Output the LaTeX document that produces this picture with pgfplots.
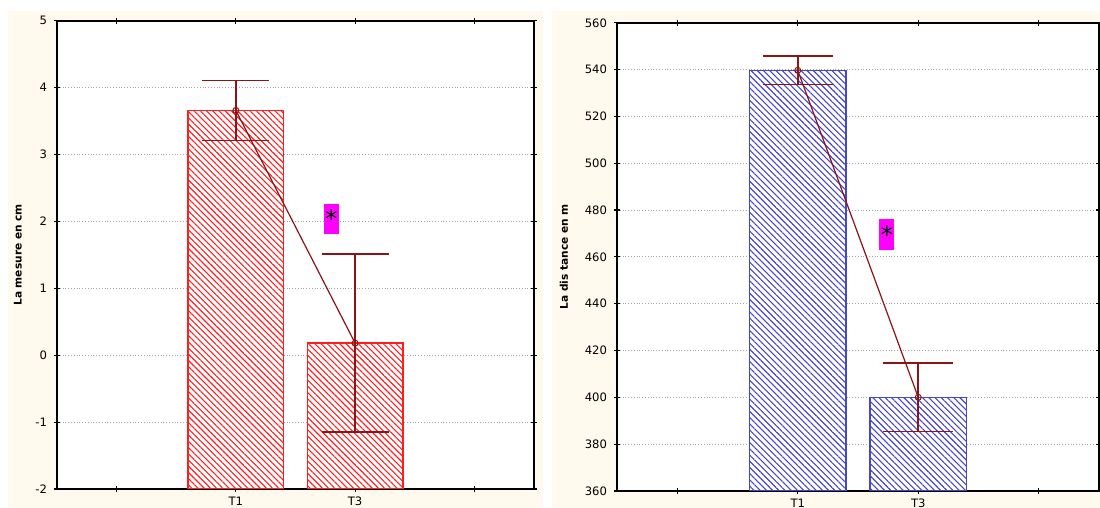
\documentclass[border=0pt]{standalone}
\usepackage{fontspec}
\setmainfont{DejaVu Sans}
\usepackage{pgfplots}
\pgfplotsset{compat=1.18}
\usetikzlibrary{patterns.meta}
\definecolor{cream}{RGB}{255,249,238}
\definecolor{darkred}{RGB}{140,20,20}
\definecolor{barred}{RGB}{255,30,30}
\definecolor{barblue}{RGB}{70,70,200}
\definecolor{starbg}{RGB}{255,0,255}
\pgfplotsset{mystyle/.style={
  scale only axis,
  axis background/.style={fill=white},
  xmin=0.5, xmax=4.5,
  xtick={1,2,3,4}, xticklabels={,T1,T3,},
  ymajorgrids,
  grid style={densely dotted, gray!70, line width=0.5pt},
  axis line style={line width=1pt},
  tick style={black, line width=0.6pt},
  major tick length=3pt,
  tick align=center,
  tick label style={font=\fontsize{5.8}{6}\selectfont},
  xticklabel style={yshift=1pt},
  /pgf/number format/assume math mode=true,
  ylabel style={font=\bfseries\fontsize{5.3}{6}\selectfont, anchor=center},
}}
\begin{document}
\begin{tikzpicture}
\fill[white] (0pt,0pt) rectangle (550pt,254pt);
\fill[cream] (4pt,0pt) rectangle (271.5pt,248.5pt);
\fill[cream] (276pt,0pt) rectangle (550pt,248.5pt);
\begin{axis}[mystyle, at={(28.5pt,9.5pt)}, anchor=south west,
  width=238.5pt, height=234.1pt,
  ymin=-2, ymax=5, ytick={-2,-1,0,1,2,3,4,5},
  ylabel={La mesure en cm},
  ylabel style={at={(axis description cs:-0.082,0.5)}}]
\addplot[draw=barred, line width=0.7pt, fill=white,
  postaction={pattern={Lines[angle=-45,distance=2.2pt,line width=0.55pt]}, pattern color=barred}]
  coordinates {(1.6,-2) (1.6,3.66) (2.4,3.66) (2.4,-2)} -- cycle;
\addplot[draw=barred, line width=0.7pt, fill=white,
  postaction={pattern={Lines[angle=-45,distance=2.2pt,line width=0.55pt]}, pattern color=barred}]
  coordinates {(2.6,-2) (2.6,0.18) (3.4,0.18) (3.4,-2)} -- cycle;
\addplot[darkred, line width=0.6pt, mark=o, mark size=1.5pt, mark options={fill=white, line width=0.5pt},
  error bars/.cd, y dir=both, y explicit, error mark=|,
  error bar style={darkred, line width=0.8pt},
  error mark options={darkred, mark size=16.75pt, line width=0.8pt}]
  coordinates {(2,3.66) +- (0,0.45) (3,0.18) +- (0,1.33)};
\node[fill=starbg, inner sep=0pt, minimum width=7.5pt, minimum height=15pt, font=\fontsize{12}{12}\selectfont]
  at (axis cs:2.8,2.04) {*};
\end{axis}
\begin{axis}[mystyle, at={(308.5pt,8.5pt)}, anchor=south west,
  width=241pt, height=234.1pt,
  ymin=360, ymax=560, ytick={360,380,...,560},
  ylabel={La dis tance en m},
  ylabel style={at={(axis description cs:-0.110,0.5)}}]
\addplot[draw=barblue, line width=0.7pt, fill=white,
  postaction={pattern={Lines[angle=-45,distance=2.2pt,line width=0.55pt]}, pattern color=barblue}]
  coordinates {(1.6,360) (1.6,539.7) (2.4,539.7) (2.4,360)} -- cycle;
\addplot[draw=barblue, line width=0.7pt, fill=white,
  postaction={pattern={Lines[angle=-45,distance=2.2pt,line width=0.55pt]}, pattern color=barblue}]
  coordinates {(2.6,360) (2.6,400) (3.4,400) (3.4,360)} -- cycle;
\addplot[darkred, line width=0.6pt, mark=o, mark size=1.5pt, mark options={fill=white, line width=0.5pt},
  error bars/.cd, y dir=both, y explicit, error mark=|,
  error bar style={darkred, line width=0.8pt},
  error mark options={darkred, mark size=17.5pt, line width=0.8pt}]
  coordinates {(2,539.7) +- (0,6) (3,400) +- (0,14.6)};
\node[fill=starbg, inner sep=0pt, minimum width=7.5pt, minimum height=15.5pt, font=\fontsize{12}{12}\selectfont]
  at (axis cs:2.74,469.5) {*};
\end{axis}
\pgfresetboundingbox
\useasboundingbox (0pt,0pt) rectangle (550pt,254pt);
\end{tikzpicture}
\end{document}
